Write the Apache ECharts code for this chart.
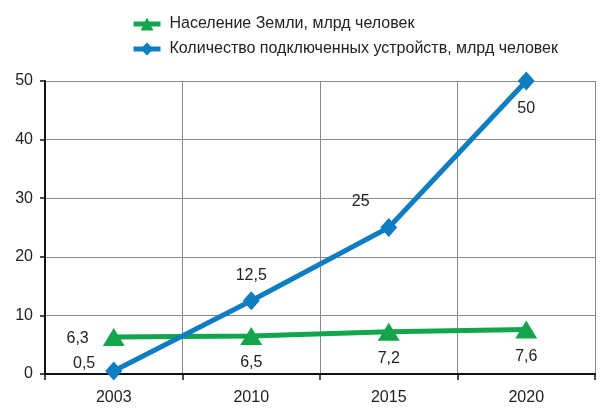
<!DOCTYPE html>
<html><head><meta charset="utf-8">
<script src="https://cdn.jsdelivr.net/npm/echarts@6/dist/echarts.min.js"></script>
<style>html,body{margin:0;padding:0;background:#fff}#c{width:600px;height:413px}</style>
</head><body><div id="c"></div>
<script>
const categories = ['2003', '2010', '2015', '2020'];
const population = [6.3, 6.5, 7.2, 7.6];
const devices = [0.5, 12.5, 25, 50];
const seriesNames = ['Население Земли, млрд человек', 'Количество подключенных устройств, млрд человек'];
const yTicks = [0, 10, 20, 30, 40, 50];

const FONT = '"Liberation Sans", Arial, sans-serif';
const GREEN = '#12a54c';
const BLUE = '#0f7dc2';
const fmt = p => String(p.value).replace('.', ',');
const lbl = {color: '#222', fontSize: 16, fontFamily: FONT, formatter: fmt};

const popLabels = [
  {position: 'left', distance: 14, offset: [0, 2]},
  {position: 'bottom', distance: 10},
  {position: 'bottom', distance: 10},
  {position: 'bottom', distance: 10}
];
const devLabels = [
  {position: 'left', distance: 10, offset: [0, -7]},
  {position: 'top', distance: 8},
  {position: 'top', distance: 8, offset: [-28, 0]},
  {position: 'bottom', distance: 10}
];

const chart = echarts.init(document.getElementById('c'), null, {renderer: 'canvas'});
chart.setOption({
  animation: false,
  textStyle: {fontFamily: FONT},
  legend: {
    orient: 'vertical', left: 126, top: 11, itemWidth: 27, itemHeight: 16, itemGap: 9,
    lineStyle: {width: 5},
    textStyle: {fontSize: 16, color: '#222', fontFamily: FONT, padding: [0, 0, 0, 4]},
    data: seriesNames
  },
  grid: {left: 45, right: 5, top: 81, bottom: 39, containLabel: false},
  xAxis: {
    type: 'category', data: categories, boundaryGap: true,
    axisLine: {lineStyle: {color: '#111', width: 2}},
    axisTick: {show: true, length: 6, alignWithLabel: false, lineStyle: {color: '#111', width: 1.5}},
    axisLabel: {color: '#222', fontSize: 16, margin: 16, fontFamily: FONT},
    splitLine: {show: true, lineStyle: {color: '#888', width: 1}}
  },
  yAxis: {
    type: 'value', min: yTicks[0], max: yTicks[yTicks.length - 1], interval: 10,
    axisLine: {show: true, lineStyle: {color: '#111', width: 2}},
    axisTick: {show: true, length: 5, lineStyle: {color: '#111', width: 1.5}},
    axisLabel: {color: '#222', fontSize: 16, margin: 12, fontFamily: FONT},
    splitLine: {show: true, lineStyle: {color: '#888', width: 1}}
  },
  series: [
    {
      name: seriesNames[0], type: 'line', z: 3,
      data: population.map((v, i) => ({value: v, label: popLabels[i]})),
      symbol: 'triangle', symbolSize: [22, 18],
      lineStyle: {color: GREEN, width: 5}, itemStyle: {color: GREEN},
      label: Object.assign({show: true}, lbl)
    },
    {
      name: seriesNames[1], type: 'line', z: 4,
      data: devices.map((v, i) => ({value: v, label: devLabels[i]})),
      symbol: 'diamond', symbolSize: [17, 19],
      lineStyle: {color: BLUE, width: 5}, itemStyle: {color: BLUE},
      label: Object.assign({show: true}, lbl)
    }
  ]
});
</script></body></html>
